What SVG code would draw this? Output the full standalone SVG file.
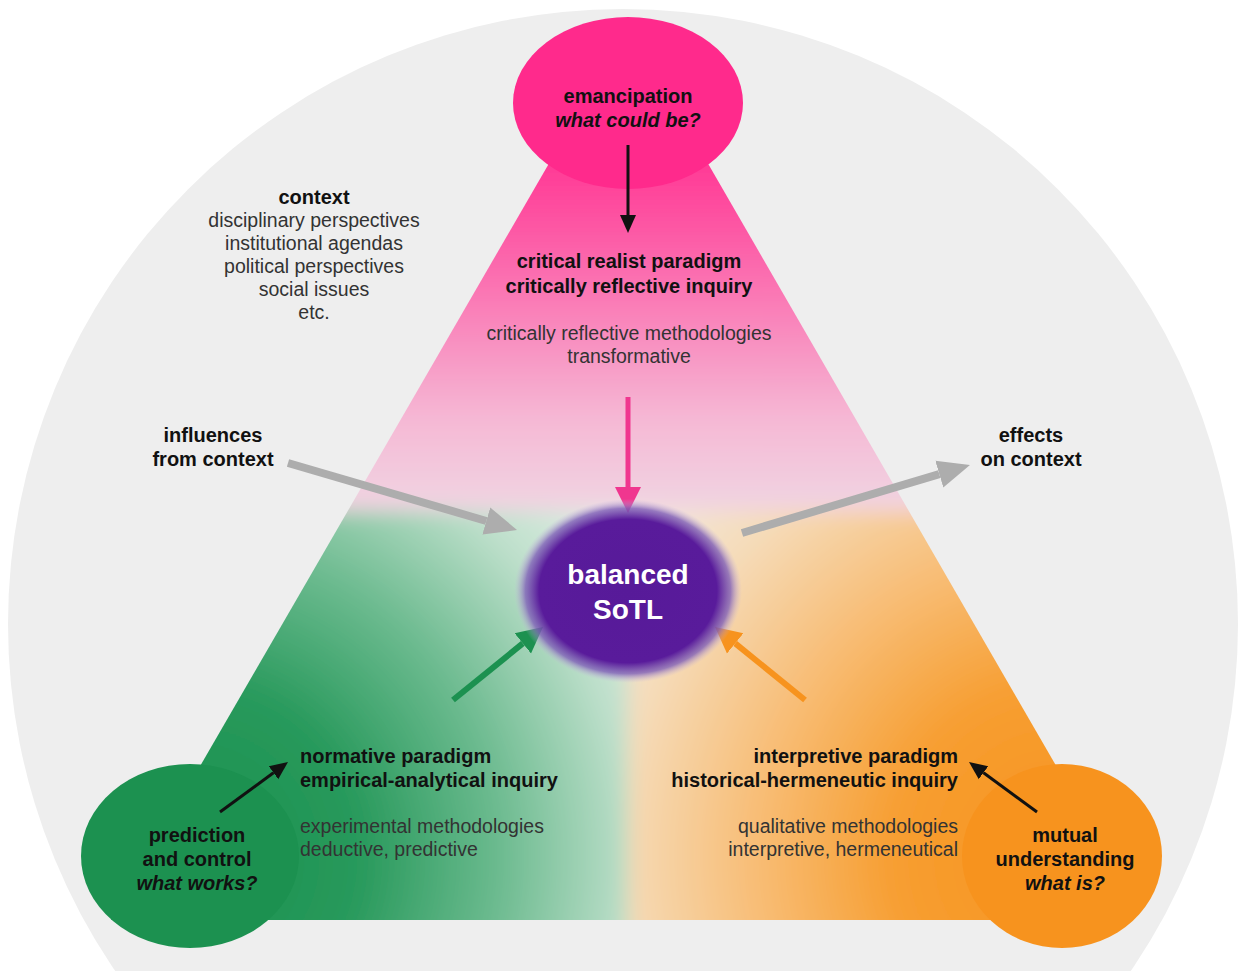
<svg xmlns="http://www.w3.org/2000/svg" width="1247" height="971" viewBox="0 0 1247 971">
<style>
text{font-family:"Liberation Sans",Arial,Helvetica,sans-serif}
.b{font-weight:bold;font-size:20px;fill:#111}
.bi{font-weight:bold;font-style:italic;font-size:20px;fill:#111}
.r{font-size:19.5px;fill:#333}
.c{text-anchor:middle}
.e{text-anchor:end}
.w{font-weight:bold;font-size:28px;fill:#fff;text-anchor:middle}
</style>
<defs>
<linearGradient id="gPink" gradientUnits="userSpaceOnUse" x1="0" y1="26" x2="0" y2="520">
<stop offset="0" stop-color="#FF2A8C"/>
<stop offset="0.3" stop-color="#FF3D97"/>
<stop offset="0.55" stop-color="#FA79B5"/>
<stop offset="0.8" stop-color="#F5B9D5"/>
<stop offset="1" stop-color="#F0D8E4"/>
</linearGradient>
<radialGradient id="gGreen" gradientUnits="userSpaceOnUse" cx="190" cy="856" r="600">
<stop offset="0" stop-color="#1C9150"/>
<stop offset="0.28" stop-color="#27995B"/>
<stop offset="0.52" stop-color="#6DBB90"/>
<stop offset="0.74" stop-color="#BFE0CC"/>
<stop offset="0.9" stop-color="#E1EDE5"/>
<stop offset="1" stop-color="#ECEFED"/>
</radialGradient>
<radialGradient id="gOrange" gradientUnits="userSpaceOnUse" cx="1062" cy="856" r="600">
<stop offset="0" stop-color="#F7931E"/>
<stop offset="0.28" stop-color="#F79E31"/>
<stop offset="0.52" stop-color="#F8BE78"/>
<stop offset="0.74" stop-color="#F5DCBA"/>
<stop offset="0.9" stop-color="#F1E8DE"/>
<stop offset="1" stop-color="#EEEEEE"/>
</radialGradient>
<radialGradient id="gPurple" cx="0.5" cy="0.5" r="0.5">
<stop offset="0" stop-color="#571A99"/>
<stop offset="0.78" stop-color="#591B9B"/>
<stop offset="0.9" stop-color="#8060B8" stop-opacity="0.8"/>
<stop offset="1" stop-color="#C8B6DE" stop-opacity="0"/>
</radialGradient>
<clipPath id="triClip">
<polygon points="628.5,26 1062,776 1062,920 111,920"/>
</clipPath>
<filter id="soft" x="-10%" y="-10%" width="120%" height="120%">
<feGaussianBlur stdDeviation="10"/>
</filter>
<marker id="ahBlack" markerUnits="userSpaceOnUse" markerWidth="18" markerHeight="18" viewBox="0 -9 18 18" refX="0" refY="0" orient="auto">
<path d="M0,-8 L18,0 L0,8 Z" fill="#111"/>
</marker>
<marker id="ahGray" markerUnits="userSpaceOnUse" markerWidth="32" markerHeight="30" viewBox="0 -15 32 30" refX="0" refY="0" orient="auto">
<path d="M0,-14 L32,0 L0,14 Z" fill="#ADADAD"/>
</marker>
<marker id="ahPink" markerUnits="userSpaceOnUse" markerWidth="26" markerHeight="28" viewBox="0 -14 26 28" refX="0" refY="0" orient="auto">
<path d="M0,-13 L26,0 L0,13 Z" fill="#F0368F"/>
</marker>
<marker id="ahGreen" markerUnits="userSpaceOnUse" markerWidth="26" markerHeight="28" viewBox="0 -14 26 28" refX="0" refY="0" orient="auto">
<path d="M0,-13 L26,0 L0,13 Z" fill="#1C9150"/>
</marker>
<marker id="ahOrange" markerUnits="userSpaceOnUse" markerWidth="26" markerHeight="28" viewBox="0 -14 26 28" refX="0" refY="0" orient="auto">
<path d="M0,-13 L26,0 L0,13 Z" fill="#F7931E"/>
</marker>
</defs>

<rect width="1247" height="971" fill="#FFFFFF"/>
<circle id="contextCircle" cx="623" cy="624" r="615" fill="#EEEEEE"/>

<g id="triangle" clip-path="url(#triClip)">
<g filter="url(#soft)">
<rect x="0" y="0" width="1247" height="515" fill="url(#gPink)"/>
<rect x="0" y="511" width="629" height="460" fill="url(#gGreen)"/>
<rect x="628" y="511" width="619" height="460" fill="url(#gOrange)"/>
</g>
</g>

<g id="emancipation">
<ellipse cx="628" cy="103" rx="115" ry="86" fill="#FF2A8C"/>
<text class="b c" x="628" y="103">emancipation</text>
<text class="bi c" x="628" y="127">what could be?</text>
</g>

<g id="prediction">
<ellipse cx="190" cy="856" rx="109" ry="92" fill="#1C9150"/>
<text class="b c" x="197" y="842">prediction</text>
<text class="b c" x="197" y="866">and control</text>
<text class="bi c" x="197" y="890">what works?</text>
</g>

<g id="understanding">
<ellipse cx="1062" cy="856" rx="100" ry="92" fill="#F7931E"/>
<text class="b c" x="1065" y="842">mutual</text>
<text class="b c" x="1065" y="866">understanding</text>
<text class="bi c" x="1065" y="890">what is?</text>
</g>

<g id="critical">
<text class="b c" x="629" y="268">critical realist paradigm</text>
<text class="b c" x="629" y="293">critically reflective inquiry</text>
<text class="r c" x="629" y="340">critically reflective methodologies</text>
<text class="r c" x="629" y="363">transformative</text>
</g>

<g id="normative">
<text class="b" x="300" y="763">normative paradigm</text>
<text class="b" x="300" y="787">empirical-analytical inquiry</text>
<text class="r" x="300" y="833">experimental methodologies</text>
<text class="r" x="300" y="856">deductive, predictive</text>
</g>

<g id="interpretive">
<text class="b e" x="958" y="763">interpretive paradigm</text>
<text class="b e" x="958" y="787">historical-hermeneutic inquiry</text>
<text class="r e" x="958" y="833">qualitative methodologies</text>
<text class="r e" x="958" y="856">interpretive, hermeneutical</text>
</g>

<g id="context">
<text class="b c" x="314" y="204">context</text>
<text class="r c" x="314" y="227">disciplinary perspectives</text>
<text class="r c" x="314" y="250">institutional agendas</text>
<text class="r c" x="314" y="273">political perspectives</text>
<text class="r c" x="314" y="296">social issues</text>
<text class="r c" x="314" y="319">etc.</text>
</g>

<g id="influences">
<text class="b c" x="213" y="442">influences</text>
<text class="b c" x="213" y="466">from context</text>
</g>

<g id="effects">
<text class="b c" x="1031" y="442">effects</text>
<text class="b c" x="1031" y="466">on context</text>
</g>

<g id="connectors" fill="none">
<line x1="628" y1="145" x2="628" y2="215" stroke="#111" stroke-width="3" marker-end="url(#ahBlack)"/>
<line x1="628" y1="397" x2="628" y2="487" stroke="#F0368F" stroke-width="5" marker-end="url(#ahPink)"/>
<line x1="288" y1="463" x2="486.3" y2="521" stroke="#ADADAD" stroke-width="8" marker-end="url(#ahGray)"/>
<line x1="742" y1="533" x2="939.3" y2="474.1" stroke="#ADADAD" stroke-width="8" marker-end="url(#ahGray)"/>
<line x1="453" y1="700" x2="522.8" y2="643.4" stroke="#1C9150" stroke-width="6" marker-end="url(#ahGreen)"/>
<line x1="805" y1="700" x2="735.2" y2="643.4" stroke="#F7931E" stroke-width="6" marker-end="url(#ahOrange)"/>
<line x1="220" y1="812" x2="273.5" y2="772.7" stroke="#111" stroke-width="3" marker-end="url(#ahBlack)"/>
<line x1="1037" y1="812" x2="983.5" y2="772.7" stroke="#111" stroke-width="3" marker-end="url(#ahBlack)"/>
</g>

<g id="balanced">
<ellipse cx="628" cy="591" rx="114" ry="92" fill="url(#gPurple)"/>
<text class="w" x="628" y="584">balanced</text>
<text class="w" x="628" y="619">SoTL</text>
</g>
</svg>
